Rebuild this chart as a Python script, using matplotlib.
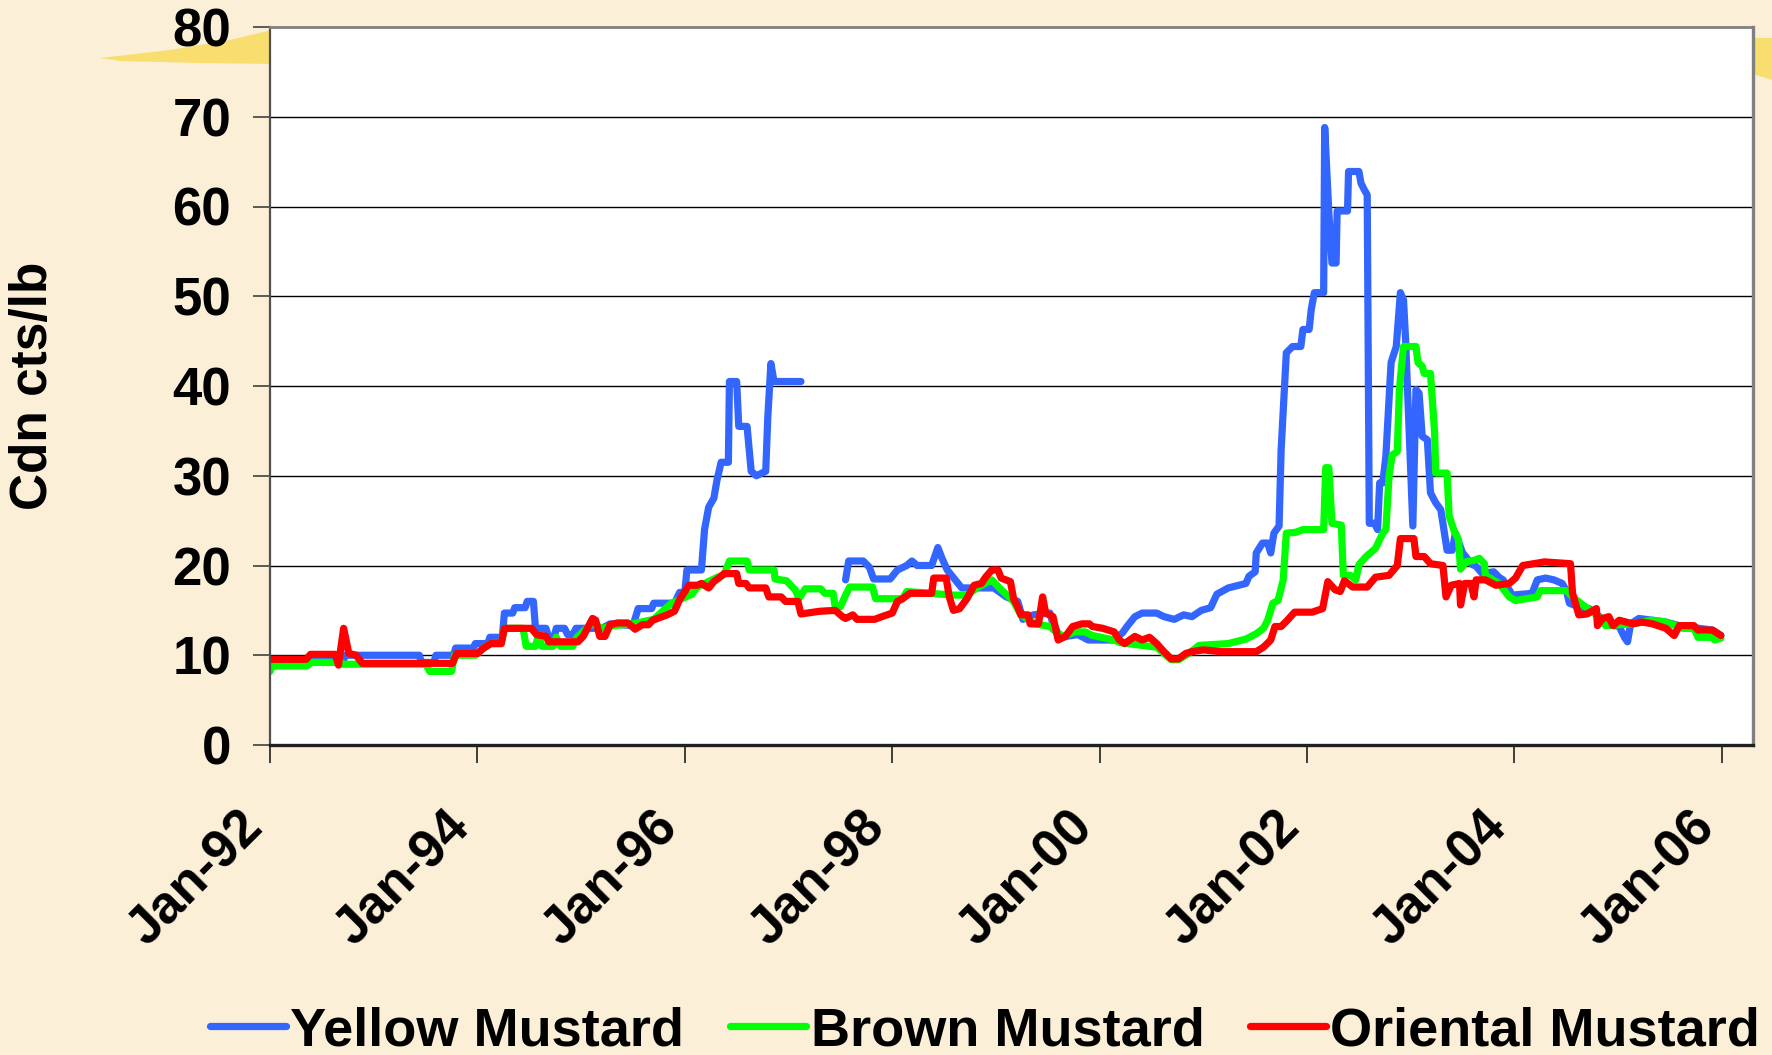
import numpy as np
import matplotlib
matplotlib.use('Agg')
import matplotlib.pyplot as plt
import matplotlib.transforms as mtransforms
from matplotlib.patches import Polygon

# weekly prices, Cdn cts/lb  (decimal year, value); nan = no quote
yellow = [
    (1992.00, 9.3), (1992.70, 9.3), (1992.73, 10.0), (1993.44, 10.0), (1993.46, 9.2),
    (1993.58, 9.2), (1993.60, 10.0), (1993.77, 10.0), (1993.79, 10.8), (1993.96, 10.8),
    (1993.98, 11.3), (1994.10, 11.3), (1994.12, 12.0), (1994.24, 12.0), (1994.26, 14.7),
    (1994.34, 14.7), (1994.36, 15.3), (1994.46, 15.3), (1994.48, 16.0), (1994.54, 16.0),
    (1994.56, 13.0), (1994.66, 13.0), (1994.69, 12.0), (1994.74, 12.0), (1994.76, 13.0),
    (1994.84, 13.0), (1994.87, 12.3), (1994.92, 12.3), (1994.95, 13.0), (1995.20, 13.0),
    (1995.28, 13.5), (1995.50, 13.3), (1995.55, 15.2), (1995.68, 15.2), (1995.70, 15.8),
    (1995.90, 15.8), (1995.95, 17.0), (1996.00, 17.0), (1996.02, 19.5), (1996.16, 19.5),
    (1996.19, 24.0), (1996.23, 26.5), (1996.28, 27.5), (1996.31, 29.5), (1996.35, 31.5),
    (1996.42, 31.5), (1996.43, 40.5), (1996.50, 40.5), (1996.52, 35.5), (1996.60, 35.5),
    (1996.64, 30.5), (1996.69, 30.0), (1996.78, 30.5), (1996.80, 36.5), (1996.83, 42.5),
    (1996.86, 40.5), (1997.12, 40.5), (1997.30, np.nan),
    (1997.55, 18.4), (1997.58, 20.5), (1997.72, 20.5), (1997.78, 19.8), (1997.82, 18.5),
    (1997.98, 18.5), (1998.05, 19.5), (1998.14, 20.0), (1998.19, 20.5), (1998.24, 20.0),
    (1998.38, 20.0), (1998.41, 21.0), (1998.44, 22.0), (1998.48, 20.8), (1998.53, 19.5),
    (1998.60, 18.5), (1998.67, 17.5), (1998.98, 17.5), (1999.10, 16.5), (1999.21, 16.0),
    (1999.26, 14.0), (1999.36, 14.5), (1999.52, 14.7), (1999.55, 13.5), (1999.62, 12.0),
    (1999.79, 12.3), (1999.89, 11.7), (2000.14, 11.7), (2000.22, 12.5), (2000.27, 13.3),
    (2000.34, 14.3), (2000.41, 14.7), (2000.55, 14.7), (2000.62, 14.3), (2000.72, 14.0),
    (2000.81, 14.5), (2000.89, 14.3), (2000.98, 15.0), (2001.07, 15.3), (2001.13, 16.8),
    (2001.24, 17.5), (2001.41, 18.0), (2001.44, 18.8), (2001.50, 19.3), (2001.51, 21.4),
    (2001.57, 22.5), (2001.62, 22.5), (2001.65, 21.4), (2001.68, 23.6), (2001.73, 24.4),
    (2001.75, 32.9), (2001.80, 43.7), (2001.86, 44.4), (2001.94, 44.4), (2001.96, 46.3),
    (2002.02, 46.3), (2002.04, 48.5), (2002.07, 50.4), (2002.16, 50.4), (2002.17, 68.8),
    (2002.21, 59.3), (2002.24, 53.7), (2002.28, 53.7), (2002.29, 59.5), (2002.39, 59.5),
    (2002.40, 63.9), (2002.50, 63.9), (2002.52, 62.6), (2002.55, 61.9), (2002.58, 61.3),
    (2002.60, 24.7), (2002.65, 24.7), (2002.68, 24.0), (2002.70, 29.2), (2002.73, 29.2),
    (2002.76, 32.2), (2002.81, 42.6), (2002.86, 44.4), (2002.90, 50.4), (2002.93, 49.6),
    (2002.95, 45.2), (2003.02, 24.4), (2003.05, 39.6), (2003.08, 39.2), (2003.11, 34.4),
    (2003.16, 34.0), (2003.19, 28.1), (2003.24, 27.0), (2003.29, 26.2), (2003.35, 21.7),
    (2003.40, 21.7), (2003.43, 23.6), (2003.50, 21.4), (2003.53, 21.0), (2003.58, 20.2),
    (2003.63, 19.9), (2003.66, 19.5), (2003.69, 19.1), (2003.80, 19.3), (2003.85, 18.7),
    (2003.89, 18.4), (2003.98, 16.7), (2004.17, 16.9), (2004.22, 18.4), (2004.30, 18.6),
    (2004.38, 18.4), (2004.46, 18.0), (2004.50, 17.2), (2004.53, 15.8), (2004.62, 15.4),
    (2004.72, 15.2), (2004.82, 14.3), (2004.88, 13.5), (2005.01, 13.2), (2005.06, 12.0),
    (2005.09, 11.5), (2005.12, 13.5), (2005.20, 14.1), (2005.33, 13.9), (2005.46, 13.7),
    (2005.62, 13.2), (2005.78, 13.0), (2005.91, 12.8), (2005.99, 12.2),
]

brown = [
    (1992.00, 8.2), (1992.02, 8.8), (1992.35, 8.8), (1992.40, 9.2), (1992.68, 9.2),
    (1992.70, 9.0), (1993.50, 9.0), (1993.54, 8.2), (1993.75, 8.2), (1993.78, 10.0),
    (1993.98, 10.0), (1994.06, 10.8), (1994.13, 11.3), (1994.23, 11.3), (1994.26, 13.0),
    (1994.44, 13.0), (1994.47, 11.0), (1994.56, 11.0), (1994.59, 12.3), (1994.62, 11.0),
    (1994.73, 11.0), (1994.76, 12.0), (1994.80, 11.0), (1994.92, 11.0), (1994.96, 12.0),
    (1995.10, 13.5), (1995.21, 13.0), (1995.31, 13.3), (1995.50, 13.5), (1995.70, 14.0),
    (1995.87, 15.8), (1996.07, 16.8), (1996.12, 17.6), (1996.28, 18.5), (1996.38, 19.0),
    (1996.43, 20.5), (1996.60, 20.5), (1996.62, 19.5), (1996.86, 19.5), (1996.87, 18.5),
    (1996.98, 18.3), (1997.07, 17.2), (1997.10, 16.3), (1997.16, 17.4), (1997.31, 17.4),
    (1997.35, 16.9), (1997.43, 16.9), (1997.45, 15.4), (1997.50, 15.4), (1997.55, 16.7),
    (1997.59, 17.6), (1997.81, 17.6), (1997.84, 16.3), (1998.10, 16.3), (1998.14, 17.1),
    (1998.59, 16.7), (1998.72, 16.7), (1998.83, 17.6), (1998.96, 18.4), (1999.05, 17.3),
    (1999.17, 16.0), (1999.24, 14.5), (1999.38, 13.5), (1999.52, 13.2), (1999.58, 12.6),
    (1999.65, 12.1), (1999.76, 12.6), (1999.86, 12.6), (1999.93, 12.2), (2000.14, 11.7),
    (2000.20, 11.4), (2000.55, 10.9), (2000.69, 9.5), (2000.76, 9.5), (2000.86, 10.2),
    (2000.96, 11.1), (2001.24, 11.3), (2001.41, 11.8), (2001.51, 12.4), (2001.58, 13.0),
    (2001.62, 13.9), (2001.67, 15.8), (2001.72, 16.1), (2001.77, 18.4), (2001.80, 23.6),
    (2001.89, 23.7), (2001.96, 24.0), (2002.16, 24.0), (2002.18, 30.9), (2002.21, 30.9),
    (2002.24, 24.7), (2002.33, 24.5), (2002.35, 18.9), (2002.42, 18.9), (2002.47, 18.4),
    (2002.50, 20.1), (2002.57, 21.0), (2002.66, 21.9), (2002.73, 23.6), (2002.76, 24.0),
    (2002.79, 29.9), (2002.82, 32.3), (2002.87, 32.7), (2002.89, 39.6), (2002.93, 44.4),
    (2003.05, 44.4), (2003.07, 42.6), (2003.11, 42.2), (2003.13, 41.4), (2003.19, 41.4),
    (2003.23, 34.8), (2003.24, 30.3), (2003.35, 30.3), (2003.37, 25.5), (2003.42, 23.8),
    (2003.46, 22.9), (2003.48, 19.6), (2003.53, 20.4), (2003.62, 20.6), (2003.66, 20.8),
    (2003.71, 20.2), (2003.72, 18.9), (2003.85, 18.0), (2003.95, 16.5), (2004.01, 16.1),
    (2004.22, 16.5), (2004.25, 17.2), (2004.50, 17.2), (2004.56, 16.5), (2004.66, 15.6),
    (2004.79, 14.5), (2004.88, 13.3), (2005.14, 13.5), (2005.33, 13.9), (2005.46, 13.7),
    (2005.62, 13.0), (2005.73, 13.0), (2005.77, 12.0), (2005.91, 12.0), (2005.93, 11.7),
    (2005.99, 11.9),
]

oriental = [
    (1992.00, 9.55), (1992.35, 9.55), (1992.39, 10.1), (1992.63, 10.1), (1992.66, 8.9),
    (1992.71, 13.0), (1992.76, 10.2), (1992.83, 10.0), (1992.89, 9.1), (1993.76, 9.1),
    (1993.80, 10.2), (1994.00, 10.2), (1994.06, 10.8), (1994.13, 11.3), (1994.23, 11.3),
    (1994.26, 13.0), (1994.52, 13.0), (1994.57, 12.3), (1994.66, 12.1), (1994.69, 11.5),
    (1994.97, 11.5), (1995.02, 12.1), (1995.11, 14.1), (1995.14, 13.9), (1995.18, 12.1),
    (1995.23, 12.1), (1995.28, 13.4), (1995.35, 13.6), (1995.45, 13.6), (1995.52, 12.9),
    (1995.59, 13.4), (1995.65, 13.4), (1995.69, 13.9), (1995.83, 14.5), (1995.90, 14.9),
    (1995.95, 16.2), (1996.04, 17.8), (1996.12, 17.8), (1996.16, 18.0), (1996.23, 17.5),
    (1996.28, 18.2), (1996.35, 18.8), (1996.38, 19.1), (1996.50, 19.1), (1996.52, 18.0),
    (1996.59, 18.0), (1996.62, 17.5), (1996.78, 17.5), (1996.81, 16.5), (1996.93, 16.5),
    (1996.97, 16.0), (1997.09, 16.0), (1997.12, 14.6), (1997.30, 14.9), (1997.45, 15.0),
    (1997.52, 14.3), (1997.55, 14.1), (1997.62, 14.5), (1997.66, 14.0), (1997.83, 14.0),
    (1997.90, 14.3), (1998.00, 14.7), (1998.05, 16.0), (1998.10, 16.3), (1998.17, 16.9),
    (1998.38, 16.9), (1998.40, 18.6), (1998.52, 18.6), (1998.55, 16.5), (1998.59, 15.0),
    (1998.65, 15.2), (1998.72, 16.3), (1998.79, 17.8), (1998.86, 18.0), (1998.90, 18.7),
    (1998.96, 19.5), (1999.02, 19.5), (1999.05, 18.6), (1999.14, 18.2), (1999.17, 16.3),
    (1999.21, 15.4), (1999.24, 14.5), (1999.31, 14.5), (1999.33, 13.5), (1999.41, 13.5),
    (1999.45, 16.5), (1999.48, 14.7), (1999.55, 14.3), (1999.60, 11.7), (1999.67, 12.1),
    (1999.74, 13.2), (1999.83, 13.5), (1999.90, 13.5), (1999.93, 13.2), (2000.03, 13.0),
    (2000.14, 12.6), (2000.19, 11.7), (2000.24, 11.3), (2000.34, 12.1), (2000.41, 11.7),
    (2000.48, 12.0), (2000.55, 11.3), (2000.62, 10.4), (2000.69, 9.6), (2000.76, 9.6),
    (2000.83, 10.2), (2000.89, 10.4), (2001.00, 10.6), (2001.17, 10.4), (2001.51, 10.4),
    (2001.58, 10.9), (2001.65, 11.7), (2001.69, 13.2), (2001.75, 13.2), (2001.81, 13.9),
    (2001.88, 14.8), (2002.05, 14.8), (2002.15, 15.2), (2002.20, 18.2), (2002.27, 17.3),
    (2002.32, 17.1), (2002.36, 18.3), (2002.44, 17.6), (2002.58, 17.6), (2002.66, 18.7),
    (2002.79, 18.9), (2002.87, 20.0), (2002.90, 23.0), (2003.03, 23.0), (2003.05, 21.0),
    (2003.13, 21.0), (2003.19, 20.2), (2003.31, 20.0), (2003.34, 16.5), (2003.39, 17.8),
    (2003.47, 18.0), (2003.48, 15.6), (2003.52, 18.0), (2003.58, 18.0), (2003.61, 16.5),
    (2003.63, 18.4), (2003.72, 18.4), (2003.82, 17.8), (2003.95, 18.0), (2004.01, 18.6),
    (2004.08, 20.0), (2004.29, 20.4), (2004.54, 20.2), (2004.56, 16.9), (2004.62, 14.5),
    (2004.70, 14.6), (2004.79, 15.2), (2004.80, 13.3), (2004.85, 14.1), (2004.91, 14.3),
    (2004.95, 13.3), (2005.01, 13.9), (2005.14, 13.5), (2005.23, 13.7), (2005.33, 13.5),
    (2005.46, 13.0), (2005.54, 12.2), (2005.59, 13.3), (2005.73, 13.3), (2005.77, 12.8),
    (2005.91, 12.8), (2005.99, 12.2),
]

series_names = ['Yellow Mustard', 'Brown Mustard', 'Oriental Mustard']
series_colors = ['#3366FF', '#00FF00', '#FF0000']
tick_years = [1992, 1994, 1996, 1998, 2000, 2002, 2004, 2006]
tick_labels = ['Jan-92', 'Jan-94', 'Jan-96', 'Jan-98', 'Jan-00', 'Jan-02', 'Jan-04', 'Jan-06']

plt.rcParams['font.family'] = ['Liberation Sans', 'DejaVu Sans']
plt.rcParams['font.weight'] = 'bold'

W, H = 1772, 1055
fig = plt.figure(figsize=(W / 100, H / 100), dpi=100, facecolor='#FBEFD8')

# yellow brush stroke of the slide template, behind the plot area
stroke = [(100, 58), (170, 50), (230, 40), (280, 28), (900, 30), (1772, 38),
          (1772, 80), (1740, 70), (900, 66), (280, 64), (200, 63), (120, 61)]
fig.patches.append(Polygon([(x / W, 1 - y / H) for x, y in stroke], closed=True,
                           transform=fig.transFigure, facecolor='#F7D94C',
                           edgecolor='none', alpha=0.75, zorder=-5))

ax = fig.add_axes([270 / W, 1 - 745 / H, (1753 - 270) / W, (745 - 27) / H])
ax.set_zorder(2)
ax.set_facecolor('white')

for data, name, col in zip([yellow, brown, oriental], series_names, series_colors):
    arr = np.array(data, dtype=float)
    ax.plot(arr[:, 0], arr[:, 1], color=col, lw=5.2, label=name,
            solid_joinstyle='round', solid_capstyle='round')

ax.set_xlim(1992, 2006.3)
ax.set_ylim(0, 80)
ax.set_yticks(range(0, 81, 10))
ax.set_xticks(tick_years)
ax.set_xticklabels(tick_labels, rotation=45, ha='right', va='center',
                   rotation_mode='anchor')
for y in range(10, 80, 10):
    ax.axhline(y, color='black', lw=1.0, zorder=0.5)

ax.tick_params(axis='y', direction='out', length=12, width=1.2, pad=16,
               labelsize=38, color='#404040')
ax.tick_params(axis='x', direction='out', length=13, width=1.2, pad=41,
               labelsize=38, color='#202020')
shift = mtransforms.ScaledTranslation(-0.15, 0, fig.dpi_scale_trans)
for lab in ax.get_xticklabels():
    lab.set_transform(lab.get_transform() + shift)
for lab in ax.get_xticklabels() + ax.get_yticklabels():
    lab.set_fontweight('bold')

ax.spines['left'].set_color('#505050')
ax.spines['left'].set_linewidth(1.6)
ax.spines['bottom'].set_color('#202020')
ax.spines['bottom'].set_linewidth(2.4)
ax.spines['top'].set_color('#808080')
ax.spines['top'].set_linewidth(2.0)
ax.spines['right'].set_color('#808080')
ax.spines['right'].set_linewidth(2.4)

fig.text(34 / W, 1 - 386 / H, 'Cdn cts/lb', rotation=90, ha='center', va='center',
         fontsize=37, fontweight='bold')

fig.legend(loc='center', bbox_to_anchor=(0.556, 1 - 1031 / H), ncol=3, frameon=False,
           handlelength=1.4, handletextpad=0.08, columnspacing=0.85,
           prop={'size': 39, 'weight': 'bold'})

fig.savefig('out.png', dpi=100, facecolor=fig.get_facecolor())
